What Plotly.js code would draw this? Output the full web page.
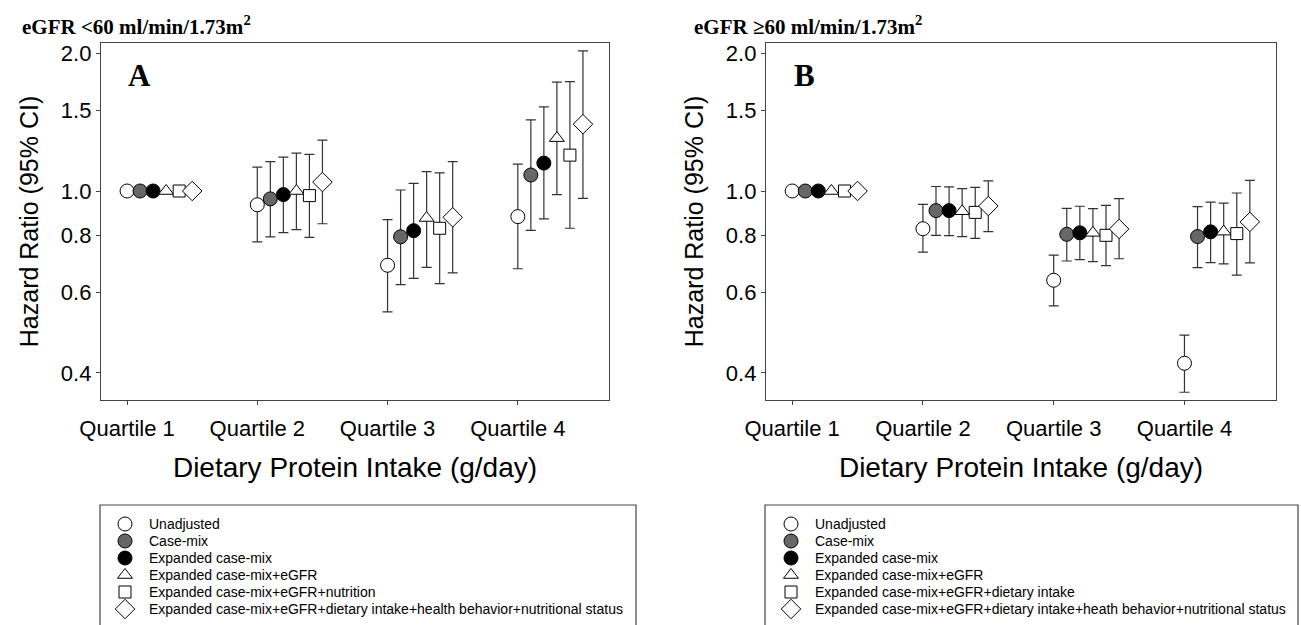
<!DOCTYPE html>
<html>
<head>
<meta charset="utf-8">
<script src="https://cdn.plot.ly/plotly-3.0.1.min.js"></script>
<style>
  html, body { margin: 0; padding: 0; background: #ffffff; }
  #chart { width: 1301px; height: 625px; }
</style>
</head>
<body>
<div id="chart"></div>
<script>
// ---------- DATA ----------
const quartiles = ['Quartile 1', 'Quartile 2', 'Quartile 3', 'Quartile 4'];
const yTickVals = [0.4, 0.6, 0.8, 1.0, 1.5, 2.0];
const yTickText = ['0.4', '0.6', '0.8', '1.0', '1.5', '2.0'];

const panelTitleA = 'eGFR &lt;60 ml/min/1.73m<sup>2</sup>';
const panelTitleB = 'eGFR ≥60 ml/min/1.73m<sup>2</sup>';

const namesA = [
  'Unadjusted',
  'Case-mix',
  'Expanded case-mix',
  'Expanded case-mix+eGFR',
  'Expanded case-mix+eGFR+nutrition',
  'Expanded case-mix+eGFR+dietary intake+health behavior+nutritional status'
];
const namesB = [
  'Unadjusted',
  'Case-mix',
  'Expanded case-mix',
  'Expanded case-mix+eGFR',
  'Expanded case-mix+eGFR+dietary intake',
  'Expanded case-mix+eGFR+dietary intake+heath behavior+nutritional status'
];

// Panel A (eGFR <60): hazard ratios, lower and upper 95% CI per model (rows) and quartile (columns)
const hrA = [
  [1, 0.933, 0.688, 0.879],
  [1, 0.961, 0.794, 1.084],
  [1, 0.982, 0.819, 1.151],
  [1, 1.000, 0.873, 1.305],
  [1, 0.977, 0.829, 1.198],
  [1, 1.046, 0.876, 1.400]
];
const loA = [
  [null, 0.774, 0.544, 0.676],
  [null, 0.794, 0.624, 0.820],
  [null, 0.811, 0.644, 0.869],
  [null, 0.823, 0.681, 0.982],
  [null, 0.792, 0.627, 0.829],
  [null, 0.848, 0.662, 0.964]
];
const hiA = [
  [null, 1.128, 0.866, 1.145],
  [null, 1.159, 1.005, 1.431],
  [null, 1.186, 1.039, 1.527],
  [null, 1.210, 1.102, 1.730],
  [null, 1.202, 1.096, 1.735],
  [null, 1.292, 1.160, 2.026]
];

// Panel B (eGFR >=60)
const hrB = [
  [1, 0.827, 0.638, 0.420],
  [1, 0.906, 0.804, 0.795],
  [1, 0.906, 0.810, 0.814],
  [1, 0.903, 0.810, 0.815],
  [1, 0.898, 0.800, 0.807],
  [1, 0.927, 0.826, 0.856]
];
const loB = [
  [null, 0.735, 0.561, 0.363],
  [null, 0.800, 0.703, 0.680],
  [null, 0.799, 0.708, 0.697],
  [null, 0.795, 0.701, 0.693],
  [null, 0.788, 0.687, 0.655],
  [null, 0.815, 0.711, 0.696]
];
const hiB = [
  [null, 0.935, 0.724, 0.484],
  [null, 1.023, 0.916, 0.924],
  [null, 1.021, 0.926, 0.946],
  [null, 1.012, 0.915, 0.941],
  [null, 1.018, 0.930, 0.990],
  [null, 1.052, 0.962, 1.055]
];

// ---------- STYLE ----------
const symbols = ['circle', 'circle', 'circle', 'triangle-up', 'square', 'diamond'];
const fills = ['#ffffff', '#676767', '#000000', '#ffffff', '#ffffff', '#ffffff'];
const sizes = [14, 14, 14, 13, 12, 15];
const modelStep = 0.1;   // horizontal dodge between models within a quartile
const sans = 'Arial, "Liberation Sans", sans-serif';
const serif = '"Times New Roman", "Liberation Serif", serif';
const W = 1301, H = 625;

function px(x) { return x / W; }
function py(y) { return (H - y) / H; }

function makeTraces(hr, lo, hi, names, xa, ya, legendId) {
  const out = [];
  for (let s = 0; s < hr.length; s++) {
    const xs = quartiles.map((q, i) => (i + 1) + s * modelStep);
    const plus = hr[s].map((v, i) => hi[s][i] == null ? NaN : hi[s][i] - v);
    const minus = hr[s].map((v, i) => lo[s][i] == null ? NaN : v - lo[s][i]);
    out.push({
      type: 'scatter',
      mode: 'markers',
      x: xs,
      y: hr[s],
      xaxis: xa,
      yaxis: ya,
      name: names[s],
      legend: legendId,
      showlegend: true,
      cliponaxis: false,
      marker: {
        symbol: symbols[s],
        size: sizes[s],
        color: fills[s],
        line: { color: '#000000', width: 1 }
      },
      error_y: {
        type: 'data',
        symmetric: false,
        array: plus,
        arrayminus: minus,
        color: '#333333',
        thickness: 1.2,
        width: 5
      },
      hoverinfo: 'x+y+name'
    });
  }
  return out;
}

const data = [].concat(
  makeTraces(hrA, loA, hiA, namesA, 'x', 'y', 'legend'),
  makeTraces(hrB, loB, hiB, namesB, 'x2', 'y2', 'legend2')
);

const yDomain = [py(400), py(43)];
const yRange = [Math.log10(0.3491), Math.log10(2.107)];
const xRange = [0.80, 4.70];

function xAxis(domain, anchor) {
  return {
    domain: domain,
    anchor: anchor,
    range: xRange,
    tickmode: 'array',
    tickvals: [1, 2, 3, 4],
    ticktext: quartiles,
    ticks: 'outside',
    ticklen: 4,
    tickcolor: '#444444',
    ticklabelstandoff: 4,
    showline: true,
    linecolor: '#444444',
    linewidth: 1.2,
    mirror: true,
    showgrid: false,
    zeroline: false,
    automargin: false,
    tickfont: { family: sans, size: 22, color: '#000000' },
    title: { text: 'Dietary Protein Intake (g/day)', standoff: 17, font: { family: sans, size: 28, color: '#000000' } },
    fixedrange: true
  };
}
function yAxis(anchor) {
  return {
    domain: yDomain,
    anchor: anchor,
    type: 'log',
    range: yRange,
    tickmode: 'array',
    tickvals: yTickVals,
    ticktext: yTickText,
    ticks: 'outside',
    ticklen: 4,
    tickcolor: '#444444',
    showline: true,
    linecolor: '#444444',
    linewidth: 1.2,
    mirror: true,
    showgrid: false,
    zeroline: false,
    automargin: false,
    tickfont: { family: sans, size: 22, color: '#000000' },
    title: { text: 'Hazard Ratio (95% CI)', standoff: 15, font: { family: sans, size: 25, color: '#000000' } },
    fixedrange: true
  };
}

const legendCommon = {
  orientation: 'v',
  xanchor: 'left',
  yanchor: 'top',
  bgcolor: 'rgba(0,0,0,0)',
  borderwidth: 0,
  itemwidth: 38,
  itemclick: false,
  itemdoubleclick: false,
  font: { family: sans, size: 14, color: '#000000' }
};

const layout = {
  width: W,
  height: H,
  margin: { l: 0, r: 0, t: 0, b: 0, pad: 0, autoexpand: false },
  paper_bgcolor: '#ffffff',
  plot_bgcolor: '#ffffff',
  showlegend: true,
  xaxis: xAxis([px(101), px(609)], 'y'),
  yaxis: yAxis('x'),
  xaxis2: xAxis([px(766), px(1276)], 'y2'),
  yaxis2: yAxis('x2'),
  // legends are placed high enough to fit inside the page (no margin push),
  // then moved to their final place after drawing
  legend: Object.assign({}, legendCommon, { x: px(101), y: py(470) }),
  legend2: Object.assign({}, legendCommon, { x: px(767), y: py(470) }),
  shapes: [
    { type: 'line', xref: 'x domain', yref: 'y', x0: 0, x1: 1, y0: 0, y1: 0, line: { color: '#000000', width: 1.2 }, layer: 'below' },
    { type: 'line', xref: 'x2 domain', yref: 'y2', x0: 0, x1: 1, y0: 0, y1: 0, line: { color: '#000000', width: 1.2 }, layer: 'below' },
    { type: 'rect', xref: 'paper', yref: 'paper', x0: px(100), x1: px(636), y0: -0.02, y1: py(505), line: { color: '#444444', width: 1.2 }, fillcolor: 'rgba(0,0,0,0)' },
    { type: 'rect', xref: 'paper', yref: 'paper', x0: px(765), x1: px(1298), y0: -0.02, y1: py(505), line: { color: '#444444', width: 1.2 }, fillcolor: 'rgba(0,0,0,0)' }
  ],
  annotations: [
    { text: panelTitleA, xref: 'paper', yref: 'paper', x: px(20), y: py(25), xanchor: 'left', yanchor: 'middle', showarrow: false,
      font: { family: serif, size: 21, color: '#000000', weight: 'bold' } },
    { text: panelTitleB, xref: 'paper', yref: 'paper', x: px(692), y: py(25), xanchor: 'left', yanchor: 'middle', showarrow: false,
      font: { family: serif, size: 21, color: '#000000', weight: 'bold' } },
    { text: '<b>A</b>', xref: 'x domain', yref: 'y domain', x: (139 - 101) / 508, y: (400 - 75) / 357, xanchor: 'center', yanchor: 'middle', showarrow: false,
      font: { family: serif, size: 31, color: '#000000' } },
    { text: '<b>B</b>', xref: 'x2 domain', yref: 'y2 domain', x: (805 - 766) / 510, y: (400 - 75) / 357, xanchor: 'center', yanchor: 'middle', showarrow: false,
      font: { family: serif, size: 31, color: '#000000' } }
  ]
};

const config = { staticPlot: true, displayModeBar: false, responsive: false };

function parseTranslate(el) {
  const m = /translate\(\s*([-\d.e]+)[ ,]+([-\d.e]+)\s*\)/.exec(el.getAttribute('transform') || '');
  return m ? [parseFloat(m[1]), parseFloat(m[2])] : [0, 0];
}

Plotly.newPlot('chart', data, layout, config).then(function (gd) {
  // tighten legend row spacing (17 px per entry) and put the first entry at y = 524 px
  const targetFirstY = 524;
  ['legend', 'legend2'].forEach(function (cls) {
    const group = gd.querySelector('g.' + cls);
    if (!group) return;
    const items = group.querySelectorAll('g.traces');
    if (!items.length) return;
    const t0 = parseTranslate(items[0]);
    items.forEach(function (el, i) {
      el.setAttribute('transform', 'translate(' + t0[0] + ',' + (t0[1] + 17 * i) + ')');
    });
    const pts = items[0].querySelector('.legendpoints');
    if (!pts) return;
    const r = pts.getBoundingClientRect();
    const host = gd.getBoundingClientRect();
    const cy = r.top + r.height / 2 - host.top;
    const g = parseTranslate(group);
    group.setAttribute('transform', 'translate(' + g[0] + ',' + (g[1] + targetFirstY - cy) + ')');
  });
});
</script>
</body>
</html>
